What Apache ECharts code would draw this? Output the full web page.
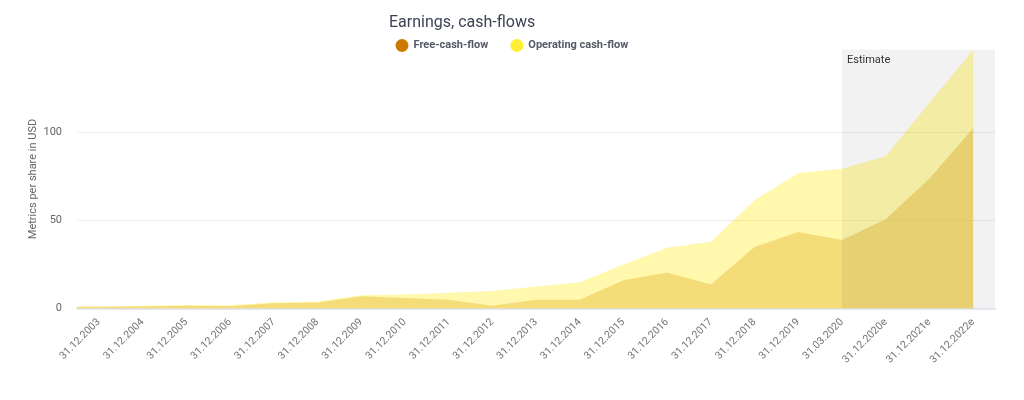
<!DOCTYPE html>
<html>
<head>
<meta charset="utf-8">
<title>Earnings, cash-flows</title>
<script src="https://cdn.jsdelivr.net/npm/echarts@6/dist/echarts.min.js"></script>
<style>
html, body { margin: 0; padding: 0; background: #fff; }
#main { width: 1024px; height: 400px; }
</style>
</head>
<body>
<div id="main"></div>
<script>
var categories = ['31.12.2003','31.12.2004','31.12.2005','31.12.2006','31.12.2007','31.12.2008','31.12.2009',
    '31.12.2010','31.12.2011','31.12.2012','31.12.2013','31.12.2014','31.12.2015','31.12.2016','31.12.2017',
    '31.12.2018','31.12.2019','31.03.2020','31.12.2020e','31.12.2021e','31.12.2022e'];
var freeCashFlow = [1, 1.2, 1.5, 1.3, 3, 3.3, 7, 6, 5, 1.5, 5, 5, 16, 20.5, 13.7, 35, 43.5, 39, 50.7, 74, 102.5];
var operatingCashFlow = [1.2, 1.5, 2, 1.8, 3.5, 4, 7.6, 8, 9, 10, 12.5, 15, 25, 34.5, 38, 61.5, 77, 79.5, 86.6, 117, 147];
var estimateFrom = '31.03.2020';

// the areas start half a band left of the first date, so x is an index axis
function toPoints(values) {
    var points = values.map(function (v, i) { return [i, v]; });
    points.unshift([-0.5, values[0]]);
    return points;
}

var myChart = echarts.init(document.getElementById('main'));

var option = {
    animation: false,
    textStyle: { fontFamily: 'Roboto' },
    title: {
        text: 'Earnings, cash-flows',
        left: 384,
        top: 10,
        textStyle: { fontFamily: 'Roboto', fontSize: 16, fontWeight: 'normal', color: '#3d4354' }
    },
    legend: {
        left: 390.5,
        top: 34,
        icon: 'circle',
        itemWidth: 13,
        itemHeight: 13,
        itemGap: 22,
        textStyle: { fontFamily: 'Roboto', fontSize: 11, fontWeight: 'bold', color: '#555a66' },
        data: [
            { name: 'Free-cash-flow', itemStyle: { color: '#cc7a00' } },
            { name: 'Operating cash-flow', itemStyle: { color: '#ffee33' } }
        ]
    },
    grid: { left: 77, right: 29, top: 49.5, bottom: 91.5 },
    xAxis: {
        type: 'value',
        min: -0.5,
        max: 20.5,
        splitLine: { show: false },
        axisLine: { onZero: false, lineStyle: { color: '#e6e8f0', width: 2 } },
        axisTick: { show: false },
        axisLabel: {
            customValues: categories.map(function (c, i) { return i; }),
            formatter: function (v) { return categories[v]; },
            rotate: 45,
            margin: 12,
            fontFamily: 'Roboto',
            fontSize: 10.5,
            color: '#77736f'
        }
    },
    yAxis: {
        type: 'value',
        min: 0,
        max: 147.3,
        interval: 50,
        name: 'Metrics per share in USD',
        nameLocation: 'middle',
        nameGap: 38,
        nameMoveOverlap: false,
        nameTextStyle: { fontFamily: 'Roboto', fontSize: 11, color: '#666' },
        axisLine: { show: false },
        axisTick: { show: false },
        axisLabel: { showMaxLabel: false, margin: 15, fontFamily: 'Roboto', fontSize: 11, color: '#666' },
        splitLine: { showMaxLine: false, lineStyle: { color: '#ececec' } }
    },
    series: [
        {
            name: 'Free-cash-flow',
            type: 'line',
            symbol: 'none',
            lineStyle: { width: 0 },
            itemStyle: { color: '#cc7a00' },
            areaStyle: { color: 'rgba(204,122,0,0.35)', opacity: 1 },
            data: toPoints(freeCashFlow)
        },
        {
            name: 'Operating cash-flow',
            type: 'line',
            symbol: 'none',
            lineStyle: { width: 0 },
            itemStyle: { color: '#ffee33' },
            areaStyle: { color: 'rgba(255,238,51,0.4)', opacity: 1 },
            data: toPoints(operatingCashFlow),
            markArea: {
                silent: true,
                z: 5,
                itemStyle: { color: 'rgba(0,0,0,0.05)' },
                label: {
                    position: 'insideTopLeft',
                    distance: 5,
                    fontFamily: 'Roboto',
                    fontSize: 11,
                    color: '#333'
                },
                data: [[
                    { name: 'Estimate', xAxis: categories.indexOf(estimateFrom) },
                    { xAxis: 20.5 }
                ]]
            }
        }
    ]
};

myChart.setOption(option);
</script>
</body>
</html>
